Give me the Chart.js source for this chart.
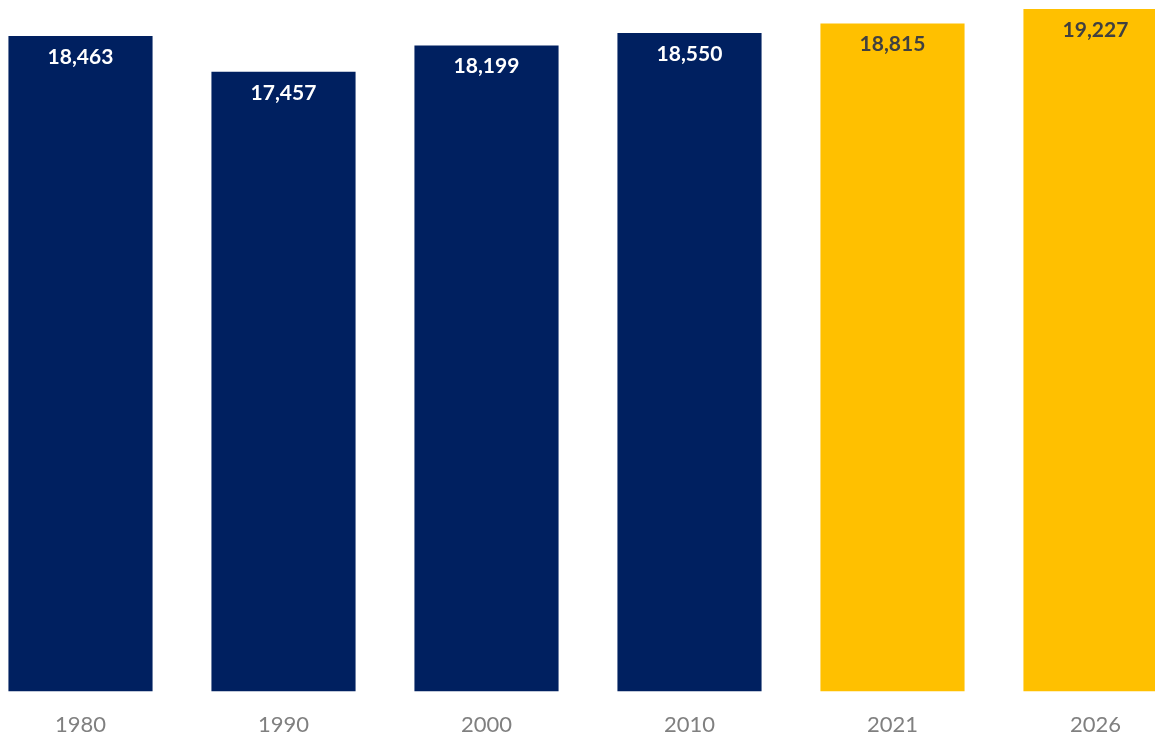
<!doctype html>
<meta charset="utf-8">
<title>Population by year</title>
<style>
    html, body {
        margin: 0;
        padding: 0;
        background: #fff;
        overflow: hidden;
    }
    #wrap {
        position: absolute;
        left: -21px;
        top: 0;
        width: 1218px;
        height: 758px;
    }
</style>
<body>
    <div id="wrap"><canvas id="chart"></canvas></div>
    <script src="https://cdn.jsdelivr.net/npm/chart.js@4/dist/chart.umd.min.js"></script>
    <script>
        const years = ["1980", "1990", "2000", "2010", "2021", "2026"];
        const population = [18463, 17457, 18199, 18550, 18815, 19227];
        // census years in navy, estimate / projection in gold
        const barColors = ["#002060", "#002060", "#002060", "#002060", "#FFC000", "#FFC000"];
        const labelColors = ["#ffffff", "#ffffff", "#ffffff", "#ffffff", "#404040", "#404040"];

        // value labels just inside the top of each bar
        const insideLabels = {
            id: "insideLabels",
            afterDatasetsDraw(chart) {
                const ctx = chart.ctx;
                const meta = chart.getDatasetMeta(0);
                ctx.save();
                ctx.font = "bold 21px Lato";
                ctx.textAlign = "center";
                ctx.textBaseline = "middle";
                meta.data.forEach((bar, i) => {
                    ctx.fillStyle = labelColors[i];
                    ctx.fillText(population[i].toLocaleString("en-US"), bar.x, bar.y + 21);
                });
                ctx.restore();
            }
        };

        new Chart(document.getElementById("chart"), {
            type: "bar",
            data: {
                labels: years,
                datasets: [{
                    data: population,
                    backgroundColor: barColors,
                    categoryPercentage: 1,
                    barPercentage: 0.71,
                }],
            },
            options: {
                responsive: true,
                maintainAspectRatio: false,
                animation: false,
                layout: { padding: 0 },
                plugins: {
                    legend: { display: false },
                    tooltip: { enabled: false },
                },
                scales: {
                    x: {
                        grid: { display: false, drawTicks: false, tickLength: 0 },
                        border: { display: false },
                        ticks: {
                            color: "#808080",
                            padding: 20,
                            font: { family: "Lato", size: 22 },
                        },
                    },
                    y: {
                        display: false,
                        min: 0,
                        max: 19480,
                    },
                },
            },
            plugins: [insideLabels],
        });
    </script>
</body>
